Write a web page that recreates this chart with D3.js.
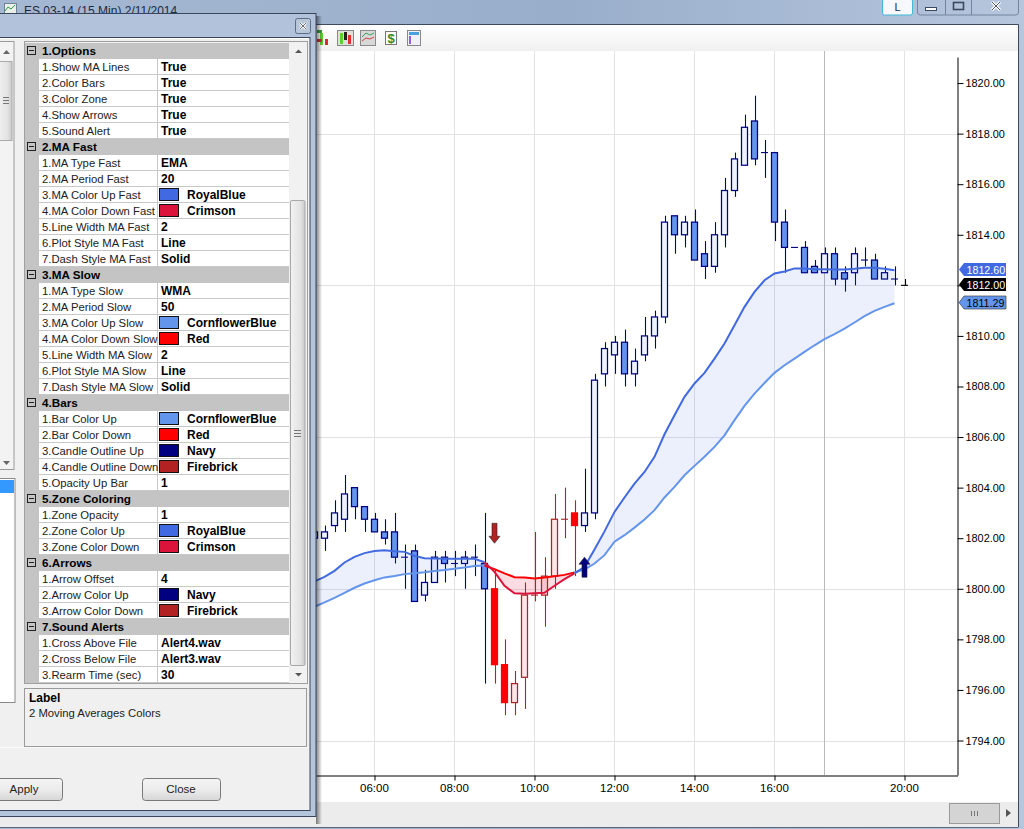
<!DOCTYPE html>
<html>
<head>
<meta charset="utf-8">
<script src="https://cdn.jsdelivr.net/npm/d3@7"></script>
<style>
html, body { margin: 0; padding: 0; background: #a9bbd6; overflow: hidden; }
svg { display: block; }
text { font-family: "Liberation Sans", Arial, sans-serif; fill: #000; }
</style>
</head>
<body>
<script>
// 15 min bars, first one sits mostly behind the dialog
const opens = [1802,1802,1802.5,1802.75,1804,1803.25,1802.75,1802.25,1802.25,1801.25,1801.5,1799.75,1800.25,1801.25,1801,1801,1801.25,
  1801,1800,1797,1795.5,1796.5,1799.75,1799.75,1800.5,1802.75,1803,1802.5,1803,1808.5,1809.25,1809.75,1808.5,1809.25,1810,1810.75,
  1814.75,1814,1814.5,1813.25,1812.75,1814,1815.75,1816.75,1818.5,1817.25,1817.25,1814.5,1813.5,1813.5,1812.75,1812.5,1813.25,1812.5,
  1812.5,1813,1813,1812.25,1812.25,1812];
const highs = [1802.25,1802.5,1803.5,1804.5,1804,1803.25,1803,1802.75,1803,1801.75,1801.75,1800.75,1801.5,1801.5,1801.5,1801.5,1801.75,
  1803,1800.75,1798,1796.75,1800.25,1802.25,1801.25,1803.75,1804,1803.5,1804.75,1808.5,1809.75,1810,1810.25,1809.5,1810.75,1811,1814.75,
  1814.75,1814.75,1815,1813.75,1814.5,1816.25,1817.25,1818.75,1819.5,1817.75,1817.25,1815,1813.5,1813.75,1813,1813.5,1813.5,1812.75,
  1813.5,1813.5,1813.25,1812.75,1812.75,1812.25];
const lows = [1802,1801.5,1802.25,1802.25,1802.75,1802.25,1802.25,1801.75,1801,1800,1799.5,1799.5,1800.25,1800.25,1800.5,1800,1800.5,
  1796.25,1796.25,1795,1795,1795.25,1799.5,1798.5,1800,1802,1800.5,1802.25,1802.75,1808,1808.5,1808,1808,1809,1809.5,1810.5,
  1813.25,1813.5,1813,1812.25,1812.5,1813.5,1815.5,1816.75,1816.75,1816.25,1813.75,1812.5,1813.5,1812.5,1812.5,1812.5,1812,1811.75,
  1812,1812.75,1812.25,1812.25,1812,1812];
const closes = [1802.25,1802.25,1803,1803.75,1803.25,1802.75,1802.25,1802,1801.25,1801.25,1799.5,1800.25,1801.25,1801,1801,1801.25,1801.25,
  1800,1797,1795.5,1796.25,1799.75,1799.75,1800.5,1802.75,1802.75,1802.5,1803,1808.25,1809.5,1809.75,1808.5,1809,1810,1810.75,1814.5,
  1814,1814.5,1813,1812.75,1814,1815.75,1817,1818.25,1817,1817.25,1814.5,1813.5,1813.5,1812.5,1812.5,1813.25,1812.25,1812.25,
  1813.25,1813,1812.25,1812.5,1812.25,1812];
const maFast = [1800.29,1800.47,1800.71,1801.04,1801.26,1801.41,1801.49,1801.52,1801.48,1801.46,1801.30,1801.21,1801.20,1801.19,1801.19,1801.19,1801.19,
  1801.05,1800.67,1800.12,1799.82,1799.80,1799.82,1799.84,1800.12,1800.38,1800.61,1800.87,1801.55,1802.27,1803.04,1803.61,1804.16,1804.62,1805.22,1806.11,
  1806.86,1807.59,1808.12,1808.54,1809.10,1809.70,1810.42,1811.15,1811.74,1812.20,1812.47,1812.55,1812.67,1812.67,1812.64,1812.64,1812.63,1812.63,
  1812.66,1812.70,1812.70,1812.66,1812.60];
const maSlow = [1799.29,1799.46,1799.64,1799.84,1800.04,1800.21,1800.34,1800.45,1800.51,1800.58,1800.61,1800.65,1800.70,1800.74,1800.79,1800.84,1800.90,
  1800.92,1800.78,1800.61,1800.46,1800.45,1800.41,1800.45,1800.50,1800.55,1800.65,1800.76,1801.00,1801.33,1801.86,1802.12,1802.42,1802.74,1803.11,1803.61,
  1804.03,1804.49,1804.86,1805.22,1805.61,1806.07,1806.67,1807.23,1807.72,1808.14,1808.54,1808.84,1809.10,1809.37,1809.63,1809.87,1810.07,1810.29,
  1810.53,1810.78,1810.99,1811.15,1811.29];

const timeTickBars = [6, 14, 22, 30, 38, 46, 59];
const timeTickLabels = ['06:00', '08:00', '10:00', '12:00', '14:00', '16:00', '20:00'];
const sessionBreakBars = [51];
const priceTicks = d3.range(1794, 1821, 2);
const priceGrid = [1794, 1800, 1806, 1812, 1818];
const arrowBars = [18, 27];
const arrowPrices = [1801.8, 1801.25];
const arrowDirs = ['down', 'up'];
const markerPrices = [1812.60, 1812.00, 1811.29];

const sections = ['1.Options', '2.MA Fast', '3.MA Slow', '4.Bars', '5.Zone Coloring', '6.Arrows', '7.Sound Alerts'];
const sectionLabels = [
  ['1.Show MA Lines', '2.Color Bars', '3.Color Zone', '4.Show Arrows', '5.Sound Alert'],
  ['1.MA Type Fast', '2.MA Period Fast', '3.MA Color Up Fast', '4.MA Color Down Fast', '5.Line Width MA Fast', '6.Plot Style MA Fast', '7.Dash Style MA Fast'],
  ['1.MA Type Slow', '2.MA Period Slow', '3.MA Color Up Slow', '4.MA Color Down Slow', '5.Line Width MA Slow', '6.Plot Style MA Slow', '7.Dash Style MA Slow'],
  ['1.Bar Color Up', '2.Bar Color Down', '3.Candle Outline Up', '4.Candle Outline Down', '5.Opacity Up Bar'],
  ['1.Zone Opacity', '2.Zone Color Up', '3.Zone Color Down'],
  ['1.Arrow Offset', '2.Arrow Color Up', '3.Arrow Color Down'],
  ['1.Cross Above File', '2.Cross Below File', '3.Rearm Time (sec)']
];
const sectionValues = [
  ['True', 'True', 'True', 'True', 'True'],
  ['EMA', '20', 'RoyalBlue', 'Crimson', '2', 'Line', 'Solid'],
  ['WMA', '50', 'CornflowerBlue', 'Red', '2', 'Line', 'Solid'],
  ['CornflowerBlue', 'Red', 'Navy', 'Firebrick', '1'],
  ['1', 'RoyalBlue', 'Crimson'],
  ['4', 'Navy', 'Firebrick'],
  ['Alert4.wav', 'Alert3.wav', '30']
];
const colorValues = ['RoyalBlue', 'Crimson', 'CornflowerBlue', 'Red', 'Navy', 'Firebrick'];

const W = 1024, H = 829;
const svg = d3.select('body').append('svg').attr('width', W).attr('height', H);
const defs = svg.append('defs');

function vGradient(id, stops, horizontal) {
  const g = defs.append('linearGradient').attr('id', id)
    .attr('x1', 0).attr('y1', 0).attr('x2', horizontal ? 1 : 0).attr('y2', horizontal ? 0 : 1);
  stops.forEach(s => g.append('stop').attr('offset', s[0]).attr('stop-color', s[1]).attr('stop-opacity', s[2] === undefined ? 1 : s[2]));
}
vGradient('chrome', [[0, '#a5b8d3'], [0.55, '#99aecb'], [1, '#b6c6dd']], true);
vGradient('toolbar', [[0, '#ffffff'], [1, '#f0f0f0']]);
vGradient('button', [[0, '#f4f4f4'], [0.5, '#ececec'], [1, '#d6d6d6']]);
vGradient('shadow', [[0, '#000', 0.5], [1, '#000', 0]], true);
vGradient('thumb', [[0, '#f2f2f2'], [0.7, '#e2e2e2'], [1, '#c8c8c8']], true);

function rect(p, x, y, w, h, fill, stroke) {
  return p.append('rect').attr('x', x).attr('y', y).attr('width', w).attr('height', h)
    .attr('fill', fill).attr('stroke', stroke || 'none');
}
function label(p, x, y, s, size, weight, anchor) {
  return p.append('text').attr('x', x).attr('y', y).text(s)
    .attr('font-size', size).attr('font-weight', weight || 'normal').attr('text-anchor', anchor || 'start');
}

// ---- main window chrome
const chrome = svg.append('g');
rect(chrome, 0, 0, W, H, 'url(#chrome)');
label(chrome, 24, 15, 'ES 03-14 (15 Min)  2/11/2014', 12).style('fill', '#1c2c40');
rect(chrome, 4.5, 3.5, 12, 10, '#e8f0e8', '#6f8296');
chrome.append('path').attr('d', 'M5 11 L8 7 L11 9 L15 5').attr('fill', 'none').attr('stroke', '#2f9a4a');

rect(chrome, 882.5, -1, 30, 16, '#f6f8fb', '#3fb9d6').attr('rx', 2);
label(chrome, 897.5, 11, 'L', 11, 'normal', 'middle').style('fill', '#16265a');
rect(chrome, 917.5, -3, 101, 18, 'none', '#73849e').attr('rx', 3);
chrome.append('path').attr('d', 'M945.5 0 V15 M971.5 0 V15').attr('stroke', '#73849e');
rect(chrome, 925.5, 7.5, 11, 3, '#fff', '#3c4a60');
rect(chrome, 953.5, 2.5, 10, 7, 'none', '#3c4a60').attr('stroke-width', 1.6);
chrome.append('path').attr('d', 'M992 2 L1000 10 M1000 2 L992 10').attr('stroke', '#fff').attr('stroke-width', 3);
chrome.append('path').attr('d', 'M992 2 L1000 10 M1000 2 L992 10').attr('stroke', '#4a566a').attr('stroke-width', 1);

rect(chrome, 0, 25, 1018, 790, '#fff');
chrome.append('path').attr('d', 'M0 24.5 H1018.5 V827').attr('fill', 'none').attr('stroke', '#3b4a62');
rect(chrome, 0, 25, 1018, 26, 'url(#toolbar)');
rect(chrome, 0, 802, 1018, 25, '#ececec');
chrome.append('path').attr('d', 'M0 827.5 H1018.5').attr('stroke', '#5a6880');
rect(chrome, 949.5, 803.5, 50, 20, '#d4d4d4', '#9a9a9a');
chrome.append('path').attr('d', 'M971.5 811 V816 M974.5 811 V816 M977.5 811 V816').attr('stroke', '#777');
chrome.append('path').attr('d', 'M1006 809 L1011 813 L1006 817 Z').attr('fill', '#555');

// toolbar icons, rough
const tb = chrome.append('g');
rect(tb, 320, 33, 3, 12, '#5fc72f');
rect(tb, 325, 39, 3, 6, '#d6302a');
rect(tb, 317, 30, 5, 3, '#3d9a3d');
rect(tb, 317, 39, 5, 3, '#c93030');
rect(tb, 337.5, 30.5, 16, 15, '#dfdfdf', '#888');
rect(tb, 340, 33, 3, 11, '#5fd02f');
rect(tb, 344, 32, 3, 8, '#222');
rect(tb, 348, 35, 3, 9, '#e0302a');
rect(tb, 360.5, 30.5, 15, 15, '#d8d8d8', '#8a8a8a');
tb.append('path').attr('d', 'M362 37 L366 33 L370 35 L374 33').attr('fill', 'none').attr('stroke', '#3aa060');
tb.append('path').attr('d', 'M362 41 L366 38 L370 39 L374 37').attr('fill', 'none').attr('stroke', '#d04040');
rect(tb, 385.5, 31.5, 11, 13, '#fff', '#777');
label(tb, 391, 43, '$', 13, 'bold', 'middle').style('fill', '#2c8a2c');
rect(tb, 407.5, 30.5, 13, 15, '#f0f0f8', '#888');
rect(tb, 409, 32, 10, 3, '#49a0e0');
rect(tb, 409, 36, 2, 8, '#9060e0');

// ---- chart
const x = d3.scaleLinear().domain([0.15, 64.3]).range([316, 957.5]);
const y = d3.scaleLinear().domain([1792.636, 1821.03]).range([775, 57]);
const plot = svg.append('g');

plot.append('g').selectAll('line').data(priceGrid).join('line')
  .attr('x1', 316).attr('x2', 957.5)
  .attr('y1', d => Math.round(y(d)) + 0.5).attr('y2', d => Math.round(y(d)) + 0.5)
  .attr('stroke', '#e2e2e2');
plot.append('g').selectAll('line').data(timeTickBars).join('line')
  .attr('x1', d => x(d)).attr('x2', d => x(d)).attr('y1', 51).attr('y2', 775)
  .attr('stroke', '#e2e2e2');
plot.append('g').selectAll('line').data(sessionBreakBars).join('line')
  .attr('x1', d => x(d)).attr('x2', d => x(d)).attr('y1', 51).attr('y2', 775)
  .attr('stroke', '#b9b9b9');

const regime = i => {
  if (maFast[i] === undefined) return 'none';
  return maFast[i] >= maSlow[i] ? 'up' : 'down';
};
const barData = opens.map((o, i) => ({ i, o, h: highs[i], l: lows[i], c: closes[i], r: regime(i) }));
const outline = { up: 'navy', down: 'firebrick', none: '#000' };
const solidFill = { up: 'cornflowerblue', down: 'red', none: '#000' };
const hollowFill = { up: '#eef2fd', down: '#fde6e6', none: '#fff' };

const candles = plot.append('g').selectAll('g').data(barData).join('g');
candles.append('line')
  .attr('x1', d => Math.round(x(d.i)) + 0.5).attr('x2', d => Math.round(x(d.i)) + 0.5)
  .attr('y1', d => y(d.h)).attr('y2', d => y(d.l))
  .attr('stroke', d => outline[d.r]).attr('stroke-width', 1.1);
candles.filter(d => d.o === d.c).append('line')
  .attr('x1', d => x(d.i) - 3.5).attr('x2', d => x(d.i) + 3.5)
  .attr('y1', d => y(d.o)).attr('y2', d => y(d.o))
  .attr('stroke', d => outline[d.r]).attr('stroke-width', 1.1);
candles.filter(d => d.o !== d.c).append('rect')
  .attr('x', d => x(d.i) - 3).attr('width', 6)
  .attr('y', d => y(Math.max(d.o, d.c)))
  .attr('height', d => Math.abs(y(d.o) - y(d.c)))
  .attr('fill', d => d.c > d.o ? hollowFill[d.r] : solidFill[d.r])
  .attr('stroke', d => (d.r === 'down' && d.c < d.o) ? 'red' : outline[d.r])
  .attr('stroke-width', 1.25);

// runs of bars with the same MA order; each run shares its first point with the previous one
const runs = [];
maFast.forEach((v, i) => {
  if (i === 0) return;
  const r = regime(i);
  const last = runs[runs.length - 1];
  if (last && last.r === r) last.idx.push(i);
  else runs.push({ r, idx: [i - 1, i] });
});

const zone = d3.area().x(i => x(i)).y0(i => y(maFast[i])).y1(i => y(maSlow[i]));
const fastLine = d3.line().x(i => x(i)).y(i => y(maFast[i]));
const slowLine = d3.line().x(i => x(i)).y(i => y(maSlow[i]));

plot.append('g').selectAll('path').data(runs).join('path')
  .attr('d', d => zone(d.idx))
  .attr('fill', d => d.r === 'up' ? 'royalblue' : 'crimson')
  .attr('fill-opacity', d => d.r === 'up' ? 0.1 : 0.15);
plot.append('g').selectAll('path').data(runs).join('path')
  .attr('d', d => slowLine(d.idx)).attr('fill', 'none').attr('stroke-width', 2)
  .attr('stroke', d => d.r === 'up' ? 'cornflowerblue' : 'red');
plot.append('g').selectAll('path').data(runs).join('path')
  .attr('d', d => fastLine(d.idx)).attr('fill', 'none').attr('stroke-width', 2)
  .attr('stroke', d => d.r === 'up' ? 'royalblue' : 'crimson');

// signal arrows, tip sits on the price
const arrowShape = dir => {
  const s = dir === 'up' ? 1 : -1;
  return `M0 0 L${5.5} ${s * 7} L${2.5} ${s * 7} L${2.5} ${s * 20} L${-2.5} ${s * 20} L${-2.5} ${s * 7} L${-5.5} ${s * 7} Z`;
};
plot.append('g').selectAll('path').data(arrowBars).join('path')
  .attr('transform', (d, i) => `translate(${x(d)},${y(arrowPrices[i])})`)
  .attr('d', (d, i) => arrowShape(arrowDirs[i]))
  .attr('fill', (d, i) => arrowDirs[i] === 'up' ? 'navy' : 'firebrick')
  .attr('stroke', '#222').attr('stroke-width', 0.6);

// axes
const yAxis = plot.append('g').attr('transform', 'translate(957.5,0)')
  .call(d3.axisRight(y).tickValues(priceTicks).tickFormat(d3.format('.2f')).tickSize(6).tickSizeOuter(0).tickPadding(2));
const xAxis = plot.append('g').attr('transform', 'translate(0,775.5)')
  .call(d3.axisBottom(x).tickValues(timeTickBars).tickFormat((d, i) => timeTickLabels[i]).tickSize(5).tickSizeOuter(0).tickPadding(3));
[yAxis, xAxis].forEach(a => {
  a.attr('font-family', null).attr('font-size', null);
  a.selectAll('text').attr('font-size', 11.5).style('fill', '#000');
  a.selectAll('line,path').attr('stroke', '#000');
});
yAxis.selectAll('text').attr('font-size', 10.9);
xAxis.selectAll('text').attr('dx', -0.6);

// last value markers
const markerFill = ['royalblue', '#000', 'cornflowerblue'];
const markerText = ['#fff', '#fff', '#000'];
const markers = plot.append('g').selectAll('g').data(markerPrices).join('g')
  .attr('transform', d => `translate(959,${Math.round(y(d)) - 0.5})`);
markers.append('path')
  .attr('d', 'M0 0 L5 -6.5 H47 V6.5 H5 Z')
  .attr('fill', (d, i) => markerFill[i]).attr('stroke', (d, i) => i === 2 ? '#444' : 'none').attr('stroke-width', 0.7);
markers.append('text').attr('x', 7.5).attr('y', 4).attr('font-size', 10.7)
  .text(d => d.toFixed(2)).style('fill', (d, i) => markerText[i]);

// ---- settings dialog
rect(svg, 316, 16, 6, 808, 'url(#shadow)');
const dlg = svg.append('g');
rect(dlg, -2, 13.5, 318, 803, '#b4c4da', '#39465c');
rect(dlg, 0, 14, 315, 22, '#b1c2da');
rect(dlg, 295.5, 18.5, 15, 15, '#b8c6da', '#5c6c84').attr('rx', 2);
dlg.append('path').attr('d', 'M300 23 L306 29 M306 23 L300 29').attr('stroke', '#fff').attr('stroke-width', 2.4);
dlg.append('path').attr('d', 'M300 23 L306 29 M306 23 L300 29').attr('stroke', '#444').attr('stroke-width', 0.8);
rect(dlg, -2, 37.5, 312, 773, '#f0f0f0', '#39465c');
dlg.append('path').attr('d', 'M0 38.5 H309').attr('stroke', '#fff');

// left list, cut off by the screenshot
rect(dlg, -2, 41.5, 16, 428, '#f3f3f3', '#9a9a9a');
rect(dlg, -2, 61.5, 14, 79, 'url(#thumb)', '#aaa');
dlg.append('path').attr('d', 'M3 97.5 H9 M3 100.5 H9 M3 103.5 H9').attr('stroke', '#777');
dlg.append('path').attr('d', 'M3 54 L6.5 50 L10 54 Z').attr('fill', '#666');
dlg.append('path').attr('d', 'M3 461 L6.5 465 L10 461 Z').attr('fill', '#666');
rect(dlg, -2, 478.5, 17, 224, '#fff', '#8a8a8a');
rect(dlg, 0, 480, 14, 13, '#3399ff');

// property grid
const gridRows = [];
sections.forEach((s, si) => {
  gridRows.push({ head: true, text: s });
  sectionLabels[si].forEach((l, j) => gridRows.push({ head: false, text: l, value: sectionValues[si][j] }));
});
const rowH = 16, gridTop = 43;
rect(dlg, 24.5, gridTop - 1.5, 283, 642, '#f0f0f0', '#a0a0a0');
const rows = dlg.append('g').selectAll('g').data(gridRows).join('g')
  .attr('transform', (d, i) => `translate(0,${gridTop + i * rowH})`);
rows.append('rect').attr('x', 25).attr('y', 0).attr('width', 264).attr('height', rowH).attr('fill', '#c4c4c4');
const cells = rows.filter(d => !d.head);
cells.append('rect').attr('x', 39).attr('y', 0).attr('width', 250).attr('height', rowH - 1).attr('fill', '#fff');
cells.append('rect').attr('x', 157).attr('y', 0).attr('width', 1).attr('height', rowH).attr('fill', '#c8c8c8');
cells.append('rect').attr('x', 39).attr('y', rowH - 1).attr('width', 250).attr('height', 1).attr('fill', '#c8c8c8');
cells.append('text').attr('x', 42).attr('y', 12).attr('font-size', 11.3).text(d => d.text).style('fill', '#222');
const isColor = d => colorValues.includes(d.value);
cells.filter(isColor).append('rect').attr('x', 159.5).attr('y', 1.5).attr('width', 19).attr('height', 12)
  .attr('fill', d => d.value.toLowerCase()).attr('stroke', '#111');
cells.append('text').attr('x', d => isColor(d) ? 187 : 161).attr('y', 12).attr('font-size', 12).attr('font-weight', 'bold').text(d => d.value);
const heads = rows.filter(d => d.head);
heads.append('rect').attr('x', 27.5).attr('y', 3.5).attr('width', 8).attr('height', 8).attr('fill', 'none').attr('stroke', '#222');
heads.append('line').attr('x1', 29).attr('x2', 34).attr('y1', 7.5).attr('y2', 7.5).attr('stroke', '#222');
heads.append('text').attr('x', 42).attr('y', 12).attr('font-size', 11.7).attr('font-weight', 'bold').text(d => d.text);

// grid scrollbar
rect(dlg, 290, 43, 17, 640, '#f1f1f1');
rect(dlg, 290.5, 200.5, 14.5, 465, 'url(#thumb)', '#a8a8a8').attr('rx', 1.5);
dlg.append('path').attr('d', 'M294 430.5 H301 M294 433.5 H301 M294 436.5 H301').attr('stroke', '#777');
dlg.append('path').attr('d', 'M295 53 L298.5 49.5 L302 53 Z').attr('fill', '#555');
dlg.append('path').attr('d', 'M295 673 L298.5 676.5 L302 673 Z').attr('fill', '#555');

// help panel
rect(dlg, 24.5, 688.5, 282, 58, '#f0f0f0', '#9a9a9a');
label(dlg, 29, 702, 'Label', 12, 'bold');
label(dlg, 29, 717, '2 Moving Averages Colors', 11.3).style('fill', '#222');
dlg.append('path').attr('d', 'M0 747.5 H309').attr('stroke', '#fafafa');

// buttons
const buttons = [['Apply', -16, 24], ['Close', 142, 181]];
buttons.forEach(b => {
  rect(dlg, b[1] + 0.5, 778.5, 78, 22, 'url(#button)', '#7a7a7a').attr('rx', 3);
  label(dlg, b[2], 793, b[0], 11.5, 'normal', 'middle').style('fill', '#222');
});
</script>
</body>
</html>
